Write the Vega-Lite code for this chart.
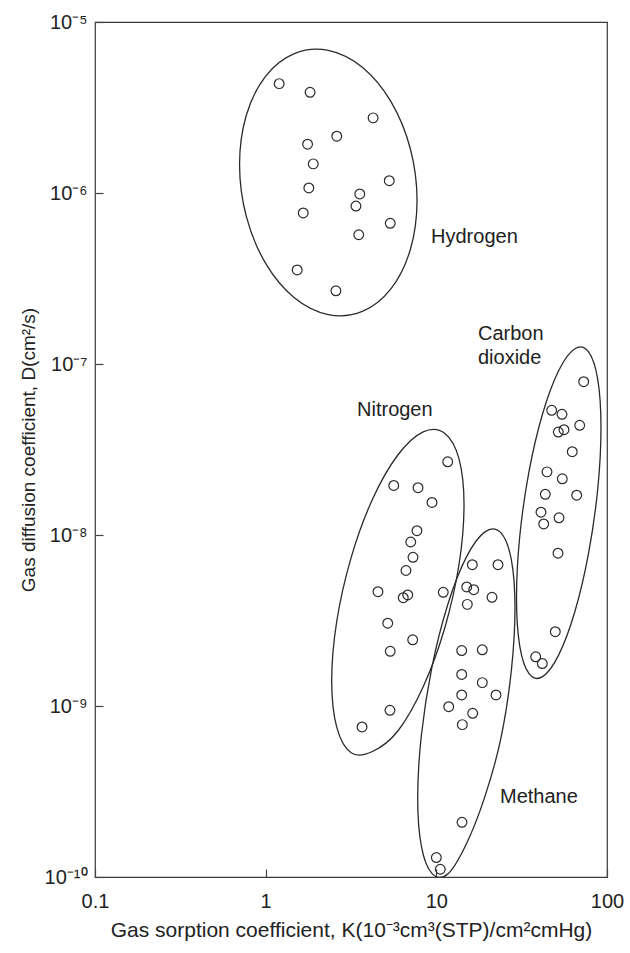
{
  "$schema": "https://vega.github.io/schema/vega-lite/v6.json",
  "width": 512,
  "height": 855,
  "autosize": "none",
  "padding": {"left": 95, "top": 22, "right": 23, "bottom": 76},
  "background": "white",
  "config": {
    "font": "Liberation Sans",
    "view": {"stroke": "#3a3a3a", "strokeWidth": 1.2},
    "axis": {
      "domain": false,
      "grid": false,
      "tickSize": -8,
      "tickColor": "#444",
      "tickWidth": 1.2,
      "labelFontSize": 20,
      "labelColor": "#222",
      "labelFont": "Liberation Sans",
      "titleFont": "Liberation Sans",
      "titleFontSize": 20,
      "titleFontWeight": "normal",
      "titleColor": "#222",
      "labelFlush": false,
      "labelOverlap": false
    }
  },
  "datasets": {
    "points": [
      {"gas": "Hydrogen", "K": 1.20, "D": 4.36e-6},
      {"gas": "Hydrogen", "K": 1.82, "D": 3.88e-6},
      {"gas": "Hydrogen", "K": 4.26, "D": 2.75e-6},
      {"gas": "Hydrogen", "K": 2.61, "D": 2.15e-6},
      {"gas": "Hydrogen", "K": 1.76, "D": 1.93e-6},
      {"gas": "Hydrogen", "K": 1.90, "D": 1.48e-6},
      {"gas": "Hydrogen", "K": 5.30, "D": 1.18e-6},
      {"gas": "Hydrogen", "K": 1.79, "D": 1.07e-6},
      {"gas": "Hydrogen", "K": 3.56, "D": 9.87e-7},
      {"gas": "Hydrogen", "K": 3.38, "D": 8.39e-7},
      {"gas": "Hydrogen", "K": 1.66, "D": 7.64e-7},
      {"gas": "Hydrogen", "K": 5.37, "D": 6.65e-7},
      {"gas": "Hydrogen", "K": 3.51, "D": 5.70e-7},
      {"gas": "Hydrogen", "K": 1.53, "D": 3.55e-7},
      {"gas": "Hydrogen", "K": 2.58, "D": 2.68e-7},
      {"gas": "Nitrogen", "K": 11.66, "D": 2.68e-8},
      {"gas": "Nitrogen", "K": 5.63, "D": 1.95e-8},
      {"gas": "Nitrogen", "K": 7.81, "D": 1.89e-8},
      {"gas": "Nitrogen", "K": 9.43, "D": 1.55e-8},
      {"gas": "Nitrogen", "K": 7.70, "D": 1.06e-8},
      {"gas": "Nitrogen", "K": 7.08, "D": 9.10e-9},
      {"gas": "Nitrogen", "K": 7.30, "D": 7.41e-9},
      {"gas": "Nitrogen", "K": 6.64, "D": 6.20e-9},
      {"gas": "Nitrogen", "K": 4.55, "D": 4.66e-9},
      {"gas": "Nitrogen", "K": 6.40, "D": 4.30e-9},
      {"gas": "Nitrogen", "K": 6.80, "D": 4.46e-9},
      {"gas": "Nitrogen", "K": 10.98, "D": 4.62e-9},
      {"gas": "Nitrogen", "K": 5.19, "D": 3.05e-9},
      {"gas": "Nitrogen", "K": 7.27, "D": 2.44e-9},
      {"gas": "Nitrogen", "K": 5.37, "D": 2.09e-9},
      {"gas": "Nitrogen", "K": 5.35, "D": 9.44e-10},
      {"gas": "Nitrogen", "K": 3.67, "D": 7.54e-10},
      {"gas": "Methane", "K": 16.25, "D": 6.70e-9},
      {"gas": "Methane", "K": 22.98, "D": 6.70e-9},
      {"gas": "Methane", "K": 15.07, "D": 4.97e-9},
      {"gas": "Methane", "K": 16.56, "D": 4.79e-9},
      {"gas": "Methane", "K": 21.19, "D": 4.32e-9},
      {"gas": "Methane", "K": 15.19, "D": 3.93e-9},
      {"gas": "Methane", "K": 14.08, "D": 2.11e-9},
      {"gas": "Methane", "K": 18.59, "D": 2.13e-9},
      {"gas": "Methane", "K": 14.08, "D": 1.53e-9},
      {"gas": "Methane", "K": 18.59, "D": 1.37e-9},
      {"gas": "Methane", "K": 14.08, "D": 1.16e-9},
      {"gas": "Methane", "K": 22.37, "D": 1.16e-9},
      {"gas": "Methane", "K": 11.82, "D": 9.91e-10},
      {"gas": "Methane", "K": 16.33, "D": 9.06e-10},
      {"gas": "Methane", "K": 14.20, "D": 7.78e-10},
      {"gas": "Methane", "K": 14.14, "D": 2.09e-10},
      {"gas": "Methane", "K": 10.00, "D": 1.30e-10},
      {"gas": "Methane", "K": 10.55, "D": 1.11e-10},
      {"gas": "Carbon dioxide", "K": 73.0, "D": 7.88e-8},
      {"gas": "Carbon dioxide", "K": 47.41, "D": 5.36e-8},
      {"gas": "Carbon dioxide", "K": 54.48, "D": 5.08e-8},
      {"gas": "Carbon dioxide", "K": 69.18, "D": 4.38e-8},
      {"gas": "Carbon dioxide", "K": 51.83, "D": 4.00e-8},
      {"gas": "Carbon dioxide", "K": 55.98, "D": 4.13e-8},
      {"gas": "Carbon dioxide", "K": 62.59, "D": 3.07e-8},
      {"gas": "Carbon dioxide", "K": 44.50, "D": 2.34e-8},
      {"gas": "Carbon dioxide", "K": 54.70, "D": 2.13e-8},
      {"gas": "Carbon dioxide", "K": 43.49, "D": 1.73e-8},
      {"gas": "Carbon dioxide", "K": 66.43, "D": 1.71e-8},
      {"gas": "Carbon dioxide", "K": 41.04, "D": 1.36e-8},
      {"gas": "Carbon dioxide", "K": 42.57, "D": 1.16e-8},
      {"gas": "Carbon dioxide", "K": 52.32, "D": 1.26e-8},
      {"gas": "Carbon dioxide", "K": 51.62, "D": 7.83e-9},
      {"gas": "Carbon dioxide", "K": 49.77, "D": 2.72e-9},
      {"gas": "Carbon dioxide", "K": 38.21, "D": 1.94e-9},
      {"gas": "Carbon dioxide", "K": 41.78, "D": 1.77e-9}
    ],
    "outlines": [
      {"gas": "Hydrogen", "i": 0, "K": 7.709, "D": 9.04e-7},
      {"gas": "Hydrogen", "i": 1, "K": 7.036, "D": 4.66e-7},
      {"gas": "Hydrogen", "i": 2, "K": 5.431, "D": 2.76e-7},
      {"gas": "Hydrogen", "i": 3, "K": 3.683, "D": 2.03e-7},
      {"gas": "Hydrogen", "i": 4, "K": 2.328, "D": 1.945e-7},
      {"gas": "Hydrogen", "i": 5, "K": 1.472, "D": 2.44e-7},
      {"gas": "Hydrogen", "i": 6, "K": 0.9977, "D": 3.89e-7},
      {"gas": "Hydrogen", "i": 7, "K": 0.7701, "D": 7.30e-7},
      {"gas": "Hydrogen", "i": 8, "K": 0.7031, "D": 1.468e-6},
      {"gas": "Hydrogen", "i": 9, "K": 0.7701, "D": 2.85e-6},
      {"gas": "Hydrogen", "i": 10, "K": 0.9977, "D": 4.81e-6},
      {"gas": "Hydrogen", "i": 11, "K": 1.472, "D": 6.53e-6},
      {"gas": "Hydrogen", "i": 12, "K": 2.328, "D": 6.82e-6},
      {"gas": "Hydrogen", "i": 13, "K": 3.683, "D": 5.43e-6},
      {"gas": "Hydrogen", "i": 14, "K": 5.431, "D": 3.41e-6},
      {"gas": "Hydrogen", "i": 15, "K": 7.036, "D": 1.82e-6},
      {"gas": "Nitrogen", "i": 0, "K": 14.53, "D": 1.497e-8},
      {"gas": "Nitrogen", "i": 1, "K": 13.58, "D": 6.72e-9},
      {"gas": "Nitrogen", "i": 2, "K": 11.18, "D": 2.84e-9},
      {"gas": "Nitrogen", "i": 3, "K": 8.375, "D": 1.295e-9},
      {"gas": "Nitrogen", "i": 4, "K": 5.950, "D": 7.14e-10},
      {"gas": "Nitrogen", "i": 5, "K": 4.227, "D": 5.42e-10},
      {"gas": "Nitrogen", "i": 6, "K": 3.168, "D": 5.33e-10},
      {"gas": "Nitrogen", "i": 7, "K": 2.608, "D": 7.53e-10},
      {"gas": "Nitrogen", "i": 8, "K": 2.437, "D": 1.40e-9},
      {"gas": "Nitrogen", "i": 9, "K": 2.608, "D": 3.12e-9},
      {"gas": "Nitrogen", "i": 10, "K": 3.168, "D": 7.38e-9},
      {"gas": "Nitrogen", "i": 11, "K": 4.227, "D": 1.620e-8},
      {"gas": "Nitrogen", "i": 12, "K": 5.950, "D": 2.936e-8},
      {"gas": "Nitrogen", "i": 13, "K": 8.375, "D": 4.01e-8},
      {"gas": "Nitrogen", "i": 14, "K": 11.18, "D": 3.94e-8},
      {"gas": "Nitrogen", "i": 15, "K": 13.58, "D": 2.79e-8},
      {"gas": "Methane", "i": 0, "K": 28.90, "D": 3.74e-9},
      {"gas": "Methane", "i": 1, "K": 27.49, "D": 1.60e-9},
      {"gas": "Methane", "i": 2, "K": 23.85, "D": 6.42e-10},
      {"gas": "Methane", "i": 3, "K": 19.27, "D": 2.96e-10},
      {"gas": "Methane", "i": 4, "K": 14.99, "D": 1.56e-10},
      {"gas": "Methane", "i": 5, "K": 11.66, "D": 1.04e-10},
      {"gas": "Methane", "i": 6, "K": 9.425, "D": 1.05e-10},
      {"gas": "Methane", "i": 7, "K": 8.175, "D": 1.51e-10},
      {"gas": "Methane", "i": 8, "K": 7.777, "D": 2.90e-10},
      {"gas": "Methane", "i": 9, "K": 8.175, "D": 6.77e-10},
      {"gas": "Methane", "i": 10, "K": 9.425, "D": 1.69e-9},
      {"gas": "Methane", "i": 11, "K": 11.66, "D": 3.91e-9},
      {"gas": "Methane", "i": 12, "K": 14.99, "D": 7.42e-9},
      {"gas": "Methane", "i": 13, "K": 19.27, "D": 1.043e-8},
      {"gas": "Methane", "i": 14, "K": 23.85, "D": 1.032e-8},
      {"gas": "Methane", "i": 15, "K": 27.49, "D": 7.20e-9},
      {"gas": "Carbon dioxide", "i": 0, "K": 92.21, "D": 4.24e-8},
      {"gas": "Carbon dioxide", "i": 1, "K": 88.31, "D": 1.87e-8},
      {"gas": "Carbon dioxide", "i": 2, "K": 78.00, "D": 7.84e-9},
      {"gas": "Carbon dioxide", "i": 3, "K": 64.85, "D": 3.57e-9},
      {"gas": "Carbon dioxide", "i": 4, "K": 52.14, "D": 1.99e-9},
      {"gas": "Carbon dioxide", "i": 5, "K": 41.94, "D": 1.485e-9},
      {"gas": "Carbon dioxide", "i": 6, "K": 34.86, "D": 1.55e-9},
      {"gas": "Carbon dioxide", "i": 7, "K": 30.80, "D": 2.25e-9},
      {"gas": "Carbon dioxide", "i": 8, "K": 29.50, "D": 4.30e-9},
      {"gas": "Carbon dioxide", "i": 9, "K": 30.80, "D": 9.76e-9},
      {"gas": "Carbon dioxide", "i": 10, "K": 34.86, "D": 2.329e-8},
      {"gas": "Carbon dioxide", "i": 11, "K": 41.94, "D": 5.114e-8},
      {"gas": "Carbon dioxide", "i": 12, "K": 52.14, "D": 9.17e-8},
      {"gas": "Carbon dioxide", "i": 13, "K": 64.85, "D": 1.229e-7},
      {"gas": "Carbon dioxide", "i": 14, "K": 78.00, "D": 1.176e-7},
      {"gas": "Carbon dioxide", "i": 15, "K": 88.31, "D": 8.10e-8}
    ],
    "labels": [
      {"text": "Hydrogen", "K": 9.31, "D": 5.53e-7},
      {"text": "Carbon", "K": 17.54, "D": 1.497e-7},
      {"text": "dioxide", "K": 17.54, "D": 1.084e-7},
      {"text": "Nitrogen", "K": 3.43, "D": 5.38e-8},
      {"text": "Methane", "K": 23.6, "D": 2.94e-10}
    ]
  },
  "layer": [
    {
      "data": {"name": "outlines"},
      "mark": {"type": "line", "interpolate": "cardinal-closed", "stroke": "#2a2a2a", "strokeWidth": 1.3, "clip": true},
      "encoding": {
        "x": {"field": "K", "type": "quantitative", "scale": {"type": "log", "domain": [0.1, 100], "nice": false},
          "axis": {"values": [0.1, 1, 10, 100], "format": "~g", "labelPadding": 22, "titlePadding": 8, "titleFontSize": 21,
            "title": "Gas sorption coefficient, K(10⁻³cm³(STP)/cm²cmHg)"}},
        "y": {"field": "D", "type": "quantitative", "scale": {"type": "log", "domain": [1e-10, 1e-5], "nice": false},
          "axis": {"values": [1e-10, 1e-9, 1e-8, 1e-7, 1e-6, 1e-5], "labelPadding": 16, "titlePadding": 6, "titleFontSize": 19,
            "labelExpr": "'10' + ['⁰','⁻¹','⁻²','⁻³','⁻⁴','⁻⁵','⁻⁶','⁻⁷','⁻⁸','⁻⁹','⁻¹⁰'][round(-log(datum.value)/LN10)]",
            "title": "Gas diffusion coefficient, D(cm²/s)"}},
        "detail": {"field": "gas"},
        "order": {"field": "i", "type": "quantitative"}
      }
    },
    {
      "data": {"name": "points"},
      "mark": {"type": "point", "shape": "circle", "filled": false, "stroke": "#2a2a2a", "strokeWidth": 1.2, "size": 95, "opacity": 1},
      "encoding": {
        "x": {"field": "K", "type": "quantitative"},
        "y": {"field": "D", "type": "quantitative"}
      }
    },
    {
      "data": {"name": "labels"},
      "mark": {"type": "text", "align": "left", "baseline": "middle", "fontSize": 20, "font": "Liberation Sans", "color": "#222"},
      "encoding": {
        "x": {"field": "K", "type": "quantitative"},
        "y": {"field": "D", "type": "quantitative"},
        "text": {"field": "text"}
      }
    }
  ]
}
